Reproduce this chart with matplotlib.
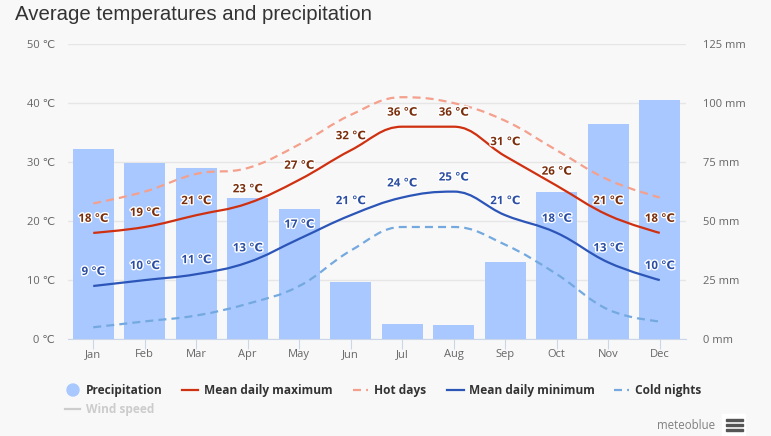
import matplotlib
matplotlib.use('Agg')
import matplotlib.pyplot as plt
import matplotlib.patheffects as pe
from matplotlib.patches import PathPatch, Rectangle, Ellipse
from matplotlib.path import Path
from matplotlib.lines import Line2D

plt.rcParams['font.family'] = ['Open Sans', 'DejaVu Sans']

months = ['Jan', 'Feb', 'Mar', 'Apr', 'May', 'Jun', 'Jul', 'Aug', 'Sep', 'Oct', 'Nov', 'Dec']
precipitation = [80.5, 74.5, 72.5, 60, 55, 24, 6.5, 6, 32.5, 62.5, 91, 101.5]
mean_max = [18, 19, 21, 23, 27, 32, 36, 36, 31, 26, 21, 18]
hot_days = [23, 25, 28, 29, 33, 38, 41, 40, 37, 32, 27, 24]
mean_min = [9, 10, 11, 13, 17, 21, 24, 25, 21, 18, 13, 10]
cold_nights = [2, 3, 4, 6, 9, 15, 19, 19, 16, 11, 5, 3]

temp_ticks = [0, 10, 20, 30, 40, 50]
rain_ticks = [0, 25, 50, 75, 100, 125]

BG = '#f8f8f8'
W, H = 771, 436
DASH = (3.6, 2.3)


def spline_path(values):
    # same idea as a highcharts spline, monotone around the peaks
    s = 1.5
    n = len(values)
    verts = [(0, values[0])]
    codes = [Path.MOVETO]
    ctrl = []
    for i in range(n):
        y = values[i]
        if i == 0 or i == n - 1:
            ctrl.append((i, y, i, y))
            continue
        py, ny = values[i - 1], values[i + 1]
        lx = (s * i + i - 1) / (s + 1)
        rx = (s * i + i + 1) / (s + 1)
        ly = (s * y + py) / (s + 1)
        ry = (s * y + ny) / (s + 1)
        corr = (ry - ly) * (rx - i) / (rx - lx) + y - ry
        ly += corr
        ry += corr
        if ly > py and ly > y:
            ly = max(py, y)
            ry = 2 * y - ly
        elif ly < py and ly < y:
            ly = min(py, y)
            ry = 2 * y - ly
        if ry > ny and ry > y:
            ry = max(ny, y)
            ly = 2 * y - ry
        elif ry < ny and ry < y:
            ry = min(ny, y)
            ly = 2 * y - ry
        ctrl.append((lx, ly, rx, ry))
    for i in range(1, n):
        verts += [(ctrl[i - 1][2], ctrl[i - 1][3]), (ctrl[i][0], ctrl[i][1]), (i, values[i])]
        codes += [Path.CURVE4] * 3
    return Path(verts, codes)


def draw_line(ax, values, color, dashes=None, zorder=3):
    patch = PathPatch(spline_path(values), fill=False, edgecolor=color, lw=1.6,
                      capstyle='butt', zorder=zorder)
    if dashes:
        patch.set_linestyle((0, dashes))
    ax.add_patch(patch)


def legend_text(x, y, txt, color='#333333'):
    fig.text(x / W, 1 - y / H, txt, fontsize=8.55, fontweight='bold', color=color,
             va='center', ha='left')


fig = plt.figure(figsize=(W / 100, H / 100), dpi=100, facecolor=BG)
rect = [67.5 / W, 1 - 339.1 / H, 618 / W, 295 / H]

ax_rain = fig.add_axes(rect, facecolor=BG)
ax = ax_rain.twinx()
ax_rain.set_zorder(1)
ax.set_zorder(2)
ax.patch.set_visible(False)

ax_rain.bar(range(12), precipitation, width=0.8, color='#a8c8ff', zorder=2)
ax_rain.set_ylim(0, 125)
ax_rain.set_yticks(rain_ticks)
ax_rain.yaxis.tick_right()
ax_rain.set_yticklabels([f'{v} mm' for v in rain_ticks], fontsize=8, color='#666666')
ax_rain.tick_params(axis='y', length=0, pad=12.5)
ax_rain.set_xlim(-0.5, 11.5)
ax_rain.set_xticks(range(12))
ax_rain.set_xticklabels(months, fontsize=8, color='#666666')
ax_rain.tick_params(axis='x', length=7, width=0.8, color='#ccd6eb', pad=0)
ax_rain.grid(axis='y', color='#e6e6e6', lw=1, zorder=1)
ax_rain.set_axisbelow(True)
for side in ax_rain.spines:
    ax_rain.spines[side].set_visible(False)
ax_rain.spines['bottom'].set_visible(True)
ax_rain.spines['bottom'].set_color('#ccd6eb')

ax.set_ylim(0, 50)
ax.set_yticks(temp_ticks)
ax.yaxis.tick_left()
ax.set_yticklabels([f'{v} ℃' for v in temp_ticks], fontsize=8, color='#666666')
ax.tick_params(axis='y', length=0, pad=9)
for side in ax.spines:
    ax.spines[side].set_visible(False)

draw_line(ax, cold_nights, '#74a9e0', dashes=DASH)
draw_line(ax, hot_days, '#f4a08c', dashes=DASH)
draw_line(ax, mean_min, '#2c55b8', zorder=4)
draw_line(ax, mean_max, '#cf3010', zorder=4)

halo = [pe.withStroke(linewidth=2, foreground='white')]
for vals, col in [(mean_max, '#7a2e0c'), (mean_min, '#2c4fa3')]:
    for i, v in enumerate(vals):
        ax.annotate(f'{v} ℃', (i, v), xytext=(0, 10.5), textcoords='offset points',
                    ha='center', va='center', fontsize=8.3, fontweight='bold', color=col,
                    path_effects=halo, zorder=6)

fig.text(15 / W, 1 - 14.5 / H, 'Average temperatures and precipitation', fontsize=14.7,
         family='Liberation Sans', color='#333333', va='center', ha='left')

# legend, placed by hand because the rows are uneven
fig.add_artist(Ellipse((73 / W, 1 - 390 / H), 12 / W, 12 / H, color='#a8c8ff',
                       transform=fig.transFigure))
legend_text(86, 390.5, 'Precipitation')
legend_items = [
    (182, 198, 204, 'Mean daily maximum', '#cf3010', '-'),
    (353, 368, 374, 'Hot days', '#f4a08c', (0, DASH)),
    (447, 464, 469, 'Mean daily minimum', '#2c55b8', '-'),
    (614, 629, 635, 'Cold nights', '#74a9e0', (0, DASH)),
]
for x0, x1, tx, label, col, style in legend_items:
    fig.add_artist(Line2D([x0 / W, x1 / W], [1 - 390 / H] * 2, color=col, lw=1.6, ls=style,
                          transform=fig.transFigure))
    legend_text(tx, 390.5, label)
fig.add_artist(Line2D([65 / W, 80 / W], [1 - 409 / H] * 2, color='#cccccc', lw=1.6,
                      transform=fig.transFigure))
legend_text(86, 409.5, 'Wind speed', color='#cccccc')

fig.text(715 / W, 1 - 425 / H, 'meteoblue', fontsize=8.3, color='#808080', ha='right', va='center')
fig.add_artist(Rectangle((722 / W, 0), 23 / W, 22 / H, color='white', transform=fig.transFigure))
for y in (420, 425, 430):
    fig.add_artist(Rectangle((726 / W, 1 - (y + 1.4) / H), 17 / W, 2.8 / H, color='#555555',
                             transform=fig.transFigure))

fig.savefig('out.png', dpi=100, facecolor=BG)
